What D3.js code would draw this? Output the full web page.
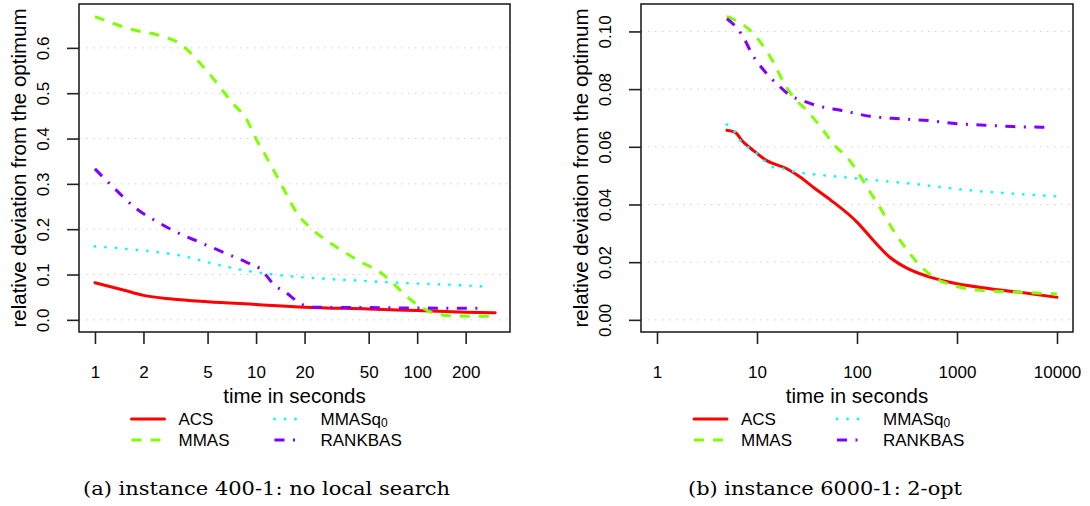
<!DOCTYPE html>
<html>
<head>
<meta charset="utf-8">
<script src="https://cdn.jsdelivr.net/npm/d3@7"></script>
<style>
  body { margin: 0; background: #fff; }
  svg { display: block; }
  .tick text { font-family: "Liberation Sans", Arial, sans-serif; font-size: 17px; fill: #000; }
</style>
</head>
<body>
<div id="chart"></div>
<script>
// ---- data ----
// panel (a): instance 400-1, no local search
const aAcsT = [1, 1.5, 2, 3, 5, 10, 20, 50, 100, 200, 305];
const aAcsV = [0.082, 0.066, 0.054, 0.046, 0.040, 0.034, 0.028, 0.024, 0.0205, 0.017, 0.0155];
const aMmasT = [1, 1.3, 1.72, 2.42, 3.37, 4.93, 7.2, 8.7, 10.1, 11.6, 15.5, 17.8, 21.6, 27.4, 34.8, 45, 59, 73, 90, 115, 153, 225, 300];
const aMmasV = [0.669, 0.654, 0.640, 0.629, 0.609, 0.550, 0.477, 0.443, 0.396, 0.359, 0.276, 0.237, 0.204, 0.175, 0.151, 0.127, 0.105, 0.076, 0.046, 0.021, 0.0095, 0.008, 0.008];
const aQ0T = [1, 2, 3.37, 5.3, 7.9, 12.8, 23.3, 42.2, 78.6, 145, 265];
const aQ0V = [0.162, 0.153, 0.142, 0.125, 0.111, 0.100, 0.092, 0.0867, 0.0816, 0.078, 0.0735];
const aRankT = [1, 1.33, 1.81, 2.53, 3.06, 4.49, 6.57, 8.75, 10.6, 13.1, 15.5, 18.3, 22, 50, 100, 265];
const aRankV = [0.333, 0.289, 0.245, 0.213, 0.197, 0.171, 0.146, 0.127, 0.1125, 0.0757, 0.059, 0.039, 0.028, 0.027, 0.026, 0.0256];

// panel (b): instance 6000-1, 2-opt
const bAcsT = [5, 6.06, 7.06, 9.2, 12.5, 19.9, 27, 36.5, 53.8, 100, 146, 213, 312, 537, 1000, 2140, 4630, 10000];
const bAcsV = [0.0657, 0.065, 0.0622, 0.0587, 0.0552, 0.0524, 0.0495, 0.046, 0.0417, 0.0339, 0.0275, 0.0217, 0.018, 0.0148, 0.0125, 0.0108, 0.0094, 0.0078];
const bMmasT = [5, 8.55, 10.8, 14.6, 18.4, 23.2, 31.5, 46, 58, 82, 107, 137, 177, 231, 302, 397, 582, 923, 1460, 2500, 4300, 10000];
const bMmasV = [0.1052, 0.1003, 0.0963, 0.0893, 0.0824, 0.0772, 0.0726, 0.0657, 0.061, 0.0558, 0.05, 0.044, 0.0379, 0.031, 0.0252, 0.020, 0.0148, 0.0119, 0.0105, 0.0099, 0.0096, 0.009];
const bQ0T = [5, 6.06, 6.8, 8.2, 10, 12.1, 14.6, 18.4, 23.2, 30.4, 49.8, 125, 426, 1460, 4780, 10000];
const bQ0V = [0.0677, 0.065, 0.0622, 0.0597, 0.0576, 0.0549, 0.0529, 0.0524, 0.0515, 0.0508, 0.05, 0.0487, 0.0469, 0.0448, 0.0435, 0.0428];
const bRankT = [5, 6.8, 7.6, 8.9, 10.4, 13, 16.4, 21.5, 28, 39.6, 70.4, 134, 270, 517, 1000, 1900, 3600, 7800];
const bRankV = [0.1044, 0.0997, 0.0969, 0.0922, 0.0888, 0.0847, 0.0813, 0.0778, 0.0761, 0.0743, 0.0726, 0.0706, 0.0697, 0.0691, 0.068, 0.0675, 0.067, 0.0668];

const seriesNames = ['ACS', 'MMAS', 'MMASq0', 'RANKBAS'];
const aXTicks = [1, 2, 5, 10, 20, 50, 100, 200];
const aYTicks = [0, 0.1, 0.2, 0.3, 0.4, 0.5, 0.6];
const bXTicks = [1, 10, 100, 1000, 10000];
const bYTicks = [0, 0.02, 0.04, 0.06, 0.08, 0.10];
const captions = ['(a) instance 400-1: no local search', '(b) instance 6000-1: 2-opt'];

// ---- styles (R rainbow(4) with lty 1..4) ----
const styles = {
    ACS:     { color: '#FF0000', dash: null, width: 3, cap: 'round' },
    MMAS:    { color: '#80FF00', dash: '10,9', width: 3, cap: 'butt' },
    MMASq0:  { color: '#00FFFF', dash: '0.01,10.5', width: 2.8, cap: 'round' },
    RANKBAS: { color: '#8000FF', dash: '10,8.5,2,8.5', width: 3, cap: 'butt' }
};

const W = 1090, H = 506;
const sans = '"Liberation Sans", Arial, sans-serif';

const svg = d3.select('#chart').append('svg')
    .attr('width', W).attr('height', H);

function drawPanel(p) {
    const g = svg.append('g');
    const { left, right, top, bottom } = p.box;

    // R style 4% axis expansion
    const lx0 = Math.log10(p.xlim[0]), lx1 = Math.log10(p.xlim[1]);
    const ex = (lx1 - lx0) * 0.04;
    const x = d3.scaleLog()
        .domain([Math.pow(10, lx0 - ex), Math.pow(10, lx1 + ex)])
        .range([left, right]);
    const ey = (p.ylim[1] - p.ylim[0]) * 0.04;
    const y = d3.scaleLinear()
        .domain([p.ylim[0] - ey, p.ylim[1] + ey])
        .range([bottom, top]);

    // grid
    g.append('g').selectAll('line')
        .data(p.yTicks)
        .enter().append('line')
        .attr('x1', left).attr('x2', right)
        .attr('y1', d => y(d)).attr('y2', d => y(d))
        .attr('stroke', '#cfcfcf')
        .attr('stroke-width', 1)
        .attr('stroke-dasharray', '1.5,5.5');

    // lines
    const line = d3.line()
        .x(d => x(d[0]))
        .y(d => y(d[1]))
        .curve(d3.curveMonotoneX);

    p.series.forEach((s, i) => {
        const st = styles[seriesNames[i]];
        const pts = s.t.map((t, k) => [t, s.v[k]]);
        g.append('path')
            .datum(pts)
            .attr('d', line)
            .attr('fill', 'none')
            .attr('stroke', st.color)
            .attr('stroke-width', st.width)
            .attr('stroke-linecap', st.cap)
            .attr('stroke-linejoin', 'round')
            .attr('stroke-dasharray', st.dash);
    });

    // box
    g.append('rect')
        .attr('x', left).attr('y', top)
        .attr('width', right - left).attr('height', bottom - top)
        .attr('fill', 'none')
        .attr('stroke', '#222')
        .attr('stroke-width', 1.6);

    // x axis
    const xAxis = d3.axisBottom(x)
        .tickValues(p.xTicks)
        .tickFormat(d3.format('d'))
        .tickSize(12);
    const gx = g.append('g')
        .attr('transform', `translate(0,${bottom})`)
        .call(xAxis);
    gx.select('.domain').remove();
    gx.selectAll('.tick line').attr('stroke', '#222').attr('stroke-width', 1.6);
    gx.selectAll('.tick text').attr('dy', null).attr('y', 40).attr('dominant-baseline', 'central');

    // y axis
    const yAxis = d3.axisLeft(y)
        .tickValues(p.yTicks)
        .tickFormat(d3.format(p.yFormat))
        .tickSize(12);
    const gy = g.append('g')
        .attr('transform', `translate(${left},0)`)
        .call(yAxis);
    gy.select('.domain').remove();
    gy.selectAll('.tick line').attr('stroke', '#222').attr('stroke-width', 1.6);
    gy.selectAll('.tick text')
        .attr('x', null).attr('dy', null)
        .attr('text-anchor', 'middle')
        .attr('dominant-baseline', 'central')
        .attr('transform', 'translate(-36,0) rotate(-90)');

    const cx = (left + right) / 2;
    const cy = (top + bottom) / 2;

    // axis titles
    g.append('text')
        .attr('x', cx).attr('y', 395)
        .attr('text-anchor', 'middle')
        .attr('dominant-baseline', 'central')
        .style('font-family', sans).style('font-size', '20.5px')
        .text('time in seconds');

    g.append('text')
        .attr('transform', `translate(${left - 61},${cy}) rotate(-90)`)
        .attr('text-anchor', 'middle')
        .attr('dominant-baseline', 'central')
        .style('font-family', sans).style('font-size', '20.5px')
        .text('relative deviation from the optimum');

    // legend
    const cols = [{ l0: -163, l1: -130, tx: -116 }, { l0: -20, l1: 7, tx: 26 }];
    const rows = [419, 440];
    const order = [[0, 0, 0], [1, 0, 1], [2, 1, 0], [3, 1, 1]]; // [series, col, row]
    order.forEach(([si, ci, ri]) => {
        const st = styles[seriesNames[si]];
        const c = cols[ci], ry = rows[ri];
        g.append('line')
            .attr('x1', cx + c.l0).attr('x2', cx + c.l1)
            .attr('y1', ry).attr('y2', ry)
            .attr('stroke', st.color)
            .attr('stroke-width', st.width)
            .attr('stroke-linecap', st.cap)
            .attr('stroke-dasharray', st.dash);
        const t = g.append('text')
            .attr('x', cx + c.tx).attr('y', ry)
            .attr('dominant-baseline', 'central')
            .style('font-family', sans).style('font-size', '17px');
        if (seriesNames[si] === 'MMASq0') {
            t.append('tspan').text('MMASq');
            t.append('tspan').attr('dy', 4).style('font-size', '12px').text('0');
        } else {
            t.text(seriesNames[si]);
        }
    });

    // caption
    g.append('text')
        .attr('x', p.captionX).attr('y', 488)
        .attr('text-anchor', 'middle')
        .attr('dominant-baseline', 'central')
        .attr('textLength', p.captionW)
        .attr('lengthAdjust', 'spacingAndGlyphs')
        .style('font-family', '"DejaVu Serif", "Liberation Serif", serif')
        .style('font-size', '18.5px')
        .text(p.caption);
}

drawPanel({
    box: { left: 79, right: 510, top: 4, bottom: 332 },
    xlim: [1, 300], ylim: [0, 0.67],
    xTicks: aXTicks, yTicks: aYTicks, yFormat: '.1f',
    series: [
        { t: aAcsT, v: aAcsV }, { t: aMmasT, v: aMmasV },
        { t: aQ0T, v: aQ0V }, { t: aRankT, v: aRankV }
    ],
    caption: captions[0], captionX: 266.5, captionW: 367
});

drawPanel({
    box: { left: 641, right: 1073, top: 4, bottom: 332 },
    xlim: [1, 10000], ylim: [0, 0.1053],
    xTicks: bXTicks, yTicks: bYTicks, yFormat: '.2f',
    series: [
        { t: bAcsT, v: bAcsV }, { t: bMmasT, v: bMmasV },
        { t: bQ0T, v: bQ0V }, { t: bRankT, v: bRankV }
    ],
    caption: captions[1], captionX: 825, captionW: 274
});
</script>
</body>
</html>
